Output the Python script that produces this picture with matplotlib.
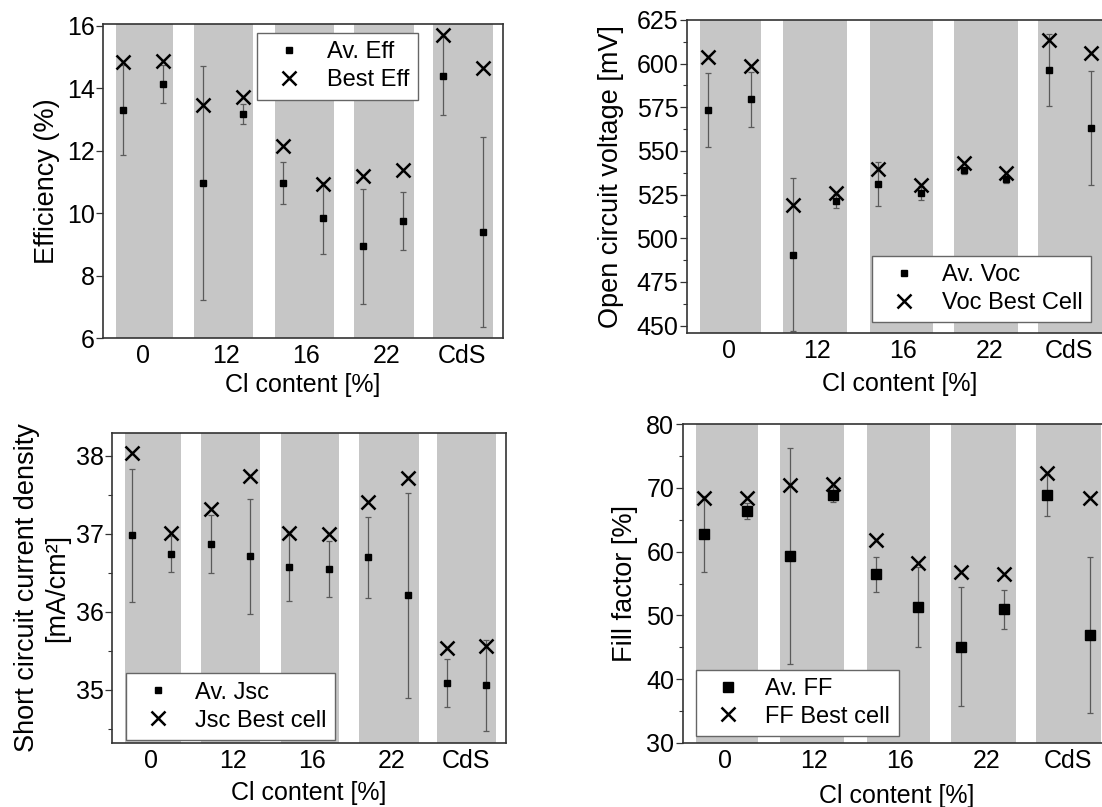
import matplotlib
matplotlib.use("Agg")
import matplotlib.pyplot as plt
from matplotlib.ticker import MultipleLocator

plt.rcParams['font.family'] = ['Liberation Sans', 'DejaVu Sans']

# ─────────────────────────────────────
# DATA
# ─────────────────────────────────────
GROUPS = ["0", "12", "16", "22", "CdS"]
SAMPLE_X = [0, 1, 2, 3, 4, 5, 6, 7, 8, 9]

eff_avg = [13.30, 14.13, 10.96, 13.18, 10.96, 9.84, 8.93, 9.74, 14.40, 9.39]
eff_err = [1.45, 0.62, 3.73, 0.32, 0.66, 1.15, 1.83, 0.93, 1.27, 3.05]
eff_best = [14.84, 14.86, 13.47, 13.72, 12.14, 10.93, 11.18, 11.39, 15.71, 14.64]

voc_avg = [573.4, 579.5, 490.7, 521.3, 531.1, 525.9, 538.9, 533.8, 596.3, 563.4]
voc_err = [21.0, 15.7, 44.0, 4.0, 12.6, 4.0, 2.0, 2.0, 20.8, 32.6]
voc_best = [603.6, 598.6, 518.8, 525.9, 539.9, 530.3, 543.1, 537.4, 613.5, 606.3]

jsc_avg = [36.98, 36.74, 36.87, 36.71, 36.58, 36.55, 36.70, 36.21, 35.09, 35.06]
jsc_err = [0.85, 0.23, 0.37, 0.74, 0.44, 0.36, 0.52, 1.31, 0.31, 0.58]
jsc_best = [38.03, 37.01, 37.32, 37.74, 37.01, 37.00, 37.41, 37.72, 35.54, 35.56]

ff_avg = [62.76, 66.42, 59.31, 68.92, 56.44, 51.32, 45.10, 50.95, 68.82, 46.93]
ff_err = [5.96, 1.26, 17.0, 1.2, 2.7, 6.2, 9.3, 3.1, 3.3, 12.3]
ff_best = [68.35, 68.35, 70.44, 70.65, 61.77, 58.21, 56.75, 56.54, 72.32, 68.35]

# ─────────────────────────────────────
# STYLE
# ─────────────────────────────────────
W, H = 1102, 807
BAND_LEFT = [-0.18, 1.77, 3.80, 5.77, 7.75]
BAND_RIGHT = [1.25, 3.26, 5.27, 7.28, 9.25]
TICK_POS = [0.5, 2.57, 4.58, 6.6, 8.48]
BAND_COLOR = "#c6c6c6"
SPINE_COLOR = "#333333"
ERR_COLOR = "#5a5a5a"
TICK_FS = 18
XLAB_FS = 18
YLAB_FS = 19.5
LEG_FS = 17

fig = plt.figure(figsize=(W / 100, H / 100), dpi=100)


def px_axes(l, t, r, b):
    return fig.add_axes([l / W, 1 - b / H, (r - l) / W, (b - t) / H])


def draw_panel(ax, avg, err, best, labels, ylim, ylabel, major, minor,
               leg_anchor, sq_size=5, xlabelpad=5, ylabelpad=4):
    for lo, hi in zip(BAND_LEFT, BAND_RIGHT):
        ax.axvspan(lo, hi, color=BAND_COLOR, lw=0, zorder=0)
    ax.errorbar(SAMPLE_X, avg, yerr=err, fmt='none', ecolor=ERR_COLOR,
                elinewidth=0.9, capsize=2.5, capthick=0.9, zorder=2)
    ax.plot(SAMPLE_X, avg, 's', color='black', ms=sq_size, label=labels[0], zorder=3)
    ax.plot(SAMPLE_X, best, 'x', color='black', ms=10, mew=1.8, label=labels[1], zorder=4)
    ax.set_xlim(-0.5, 9.5)
    ax.set_ylim(*ylim)
    ax.set_xticks(TICK_POS)
    ax.set_xticklabels(GROUPS)
    ax.yaxis.set_major_locator(MultipleLocator(major))
    if minor:
        ax.yaxis.set_minor_locator(MultipleLocator(minor))
    ax.tick_params(axis='x', length=0, pad=4, labelsize=TICK_FS)
    ax.tick_params(axis='y', which='major', direction='out', length=5,
                   width=0.9, color=SPINE_COLOR, labelsize=TICK_FS, pad=1)
    ax.tick_params(axis='y', which='minor', direction='out', length=3,
                   width=0.8, color=SPINE_COLOR)
    for s in ax.spines.values():
        s.set_color(SPINE_COLOR)
        s.set_linewidth(1.2)
    ax.set_xlabel("Cl content [%]", fontsize=XLAB_FS, labelpad=xlabelpad)
    ax.set_ylabel(ylabel, fontsize=YLAB_FS, labelpad=ylabelpad, linespacing=1.2)
    leg = ax.legend(loc=leg_anchor[0], bbox_to_anchor=leg_anchor[1],
                    fontsize=LEG_FS, frameon=True, fancybox=False, borderaxespad=0,
                    handlelength=2.0, handletextpad=0.6, labelspacing=0.25,
                    borderpad=0.35)
    leg.get_frame().set_edgecolor("#666666")
    leg.get_frame().set_linewidth(1.0)
    leg.get_frame().set_alpha(1.0)
    leg.set_zorder(5)


# Efficiency
ax1 = px_axes(103, 24, 503, 338)
draw_panel(ax1, eff_avg, eff_err, eff_best, ["Av. Eff", "Best Eff"],
           (6, 16.05), "Efficiency (%)", 2, None,
           ('upper left', (0.386, 0.971)), xlabelpad=4, ylabelpad=5)

# Open circuit voltage
ax2 = px_axes(686.7, 20, 1112.7, 333)
draw_panel(ax2, voc_avg, voc_err, voc_best, ["Av. Voc", "Voc Best Cell"],
           (445.8, 625), "Open circuit voltage [mV]", 25, 12.5,
           ('lower left', (0.435, 0.035)), xlabelpad=7, ylabelpad=9)

# Short circuit current density
ax3 = px_axes(112, 433, 506, 743)
draw_panel(ax3, jsc_avg, jsc_err, jsc_best, ["Av. Jsc", "Jsc Best cell"],
           (34.32, 38.29), "Short circuit current density\n[mA/cm²]", 1, 0.5,
           ('lower left', (0.035, 0.01)), xlabelpad=6, ylabelpad=4)

# Fill factor
ax4 = px_axes(682.5, 424, 1111.5, 743)
draw_panel(ax4, ff_avg, ff_err, ff_best, ["Av. FF", "FF Best cell"],
           (30, 80), "Fill factor [%]", 10, 5,
           ('lower left', (0.031, 0.022)), sq_size=7, xlabelpad=8, ylabelpad=6)

fig.savefig("out.png", dpi=100)
